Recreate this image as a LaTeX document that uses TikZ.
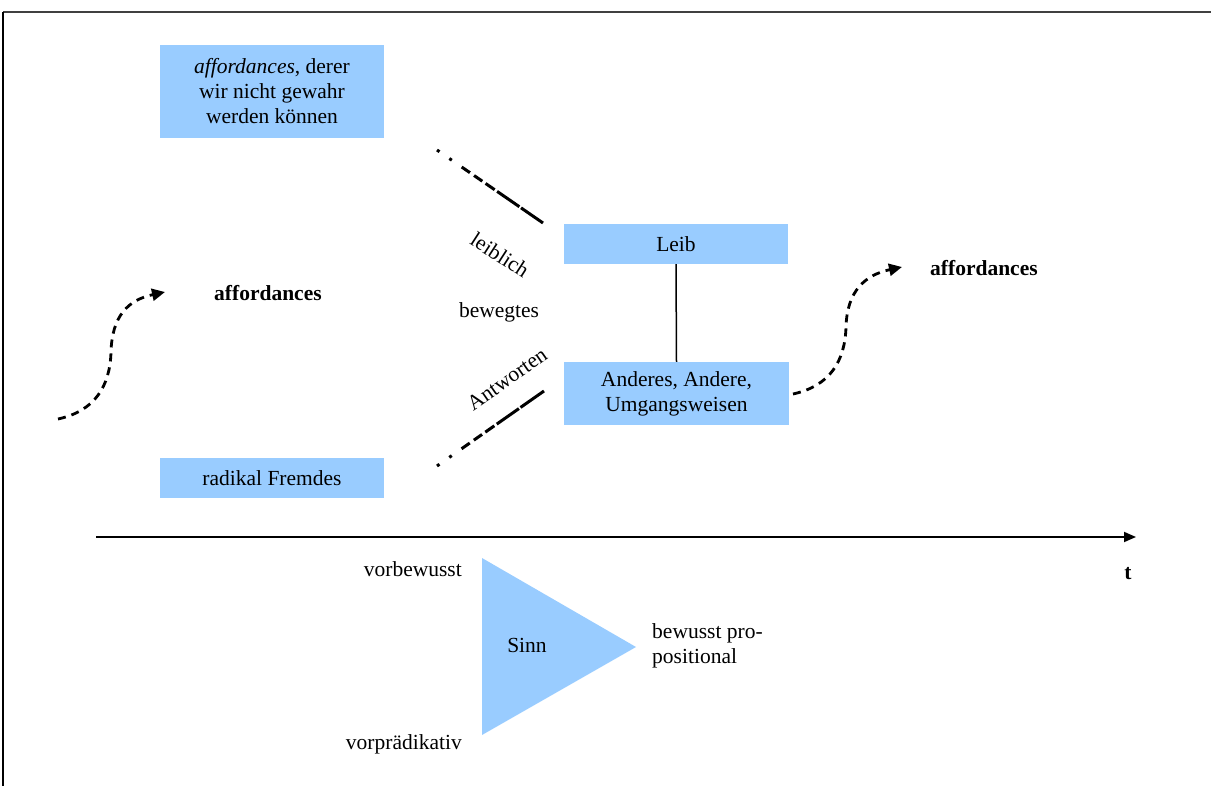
\documentclass[tikz,border=0pt]{standalone}
\usepackage{fontspec}
\setmainfont{Liberation Serif}
\usetikzlibrary{arrows.meta}
\definecolor{boxblue}{HTML}{99CCFF}
\begin{document}
\begin{tikzpicture}[x=1pt,y=-1pt,
  every node/.style={font=\fontsize{21.5}{25}\selectfont, inner sep=0pt},
  bluebox/.style={fill=boxblue, align=center, minimum width=224pt},
  plain/.style={align=center},
  fadeline/.style={line width=3pt,
    dash pattern=on 3pt off 12pt on 3pt off 12pt on 10pt off 5pt on 10pt off 4pt on 11pt off 3pt on 27pt off 2pt on 40pt},
  flowcurve/.style={line width=2.8pt, dash pattern=on 8pt off 6pt,
    -{Triangle[length=13pt,width=12pt]}},
]
\useasboundingbox (0,0) rectangle (1211,786);

% frame
\draw[line width=2.2pt, black!75] (3,12) -- (1211,12);
\draw[line width=1.2pt] (3,12) -- (3,786);

% boxes
\node[bluebox, minimum height=93pt] (unaware) at (272,91.5)
  {\textit{affordances}, derer\\wir nicht gewahr\\werden können};
\node[bluebox, minimum height=40pt] (fremd) at (272,478) {radikal Fremdes};
\node[bluebox, minimum height=40pt] (leib) at (676,244) {Leib};
\node[bluebox, minimum height=63pt, minimum width=225pt] (andere) at (676.5,393.5)
  {Anderes, Andere,\\Umgangsweisen};
\draw[line width=1.5pt] (leib.south) -- (andere.north);

% middle labels
\node[plain, rotate=-33] (leiblich) at (500,255) {leiblich};
\node[plain] (bewegtes) at (499,312) {bewegtes};
\node[plain, rotate=35] (antworten) at (507,379) {Antworten};

% fading dashed lines towards the Leib/Andere boxes
\coordinate (ua) at (437,150);
\coordinate (ub) at (543,223);
\coordinate (la) at (437,466);
\coordinate (lb) at (544,391);
\draw[fadeline] (ua) -- (ub);
\draw[fadeline] (la) -- (lb);

% affordances and curved arrows
\node[plain, font=\fontsize{21.5}{25}\selectfont\bfseries, anchor=west] (affL) at (214,293) {affordances};
\node[plain, font=\fontsize{21.5}{25}\selectfont\bfseries, anchor=west] (affR) at (930,268) {affordances};
\coordinate (cL) at (58,419);
\coordinate (tL) at (165,292);
\draw[flowcurve] (cL) .. controls (95,411) and (110,386) .. (111,352)
  .. controls (112,316) and (128,300) .. (tL);
\coordinate (cR) at (793,394);
\coordinate (tR) at (902,267);
\draw[flowcurve] (cR) .. controls (830,386) and (845,361) .. (846,327)
  .. controls (847,291) and (865,275) .. (tR);

% time axis
\coordinate (ax0) at (96,537);
\coordinate (ax1) at (1136,537);
\draw[line width=1.8pt, -{Triangle[length=12pt,width=10pt]}] (ax0) -- (ax1);
\node[plain, font=\fontsize{21.5}{25}\selectfont\bfseries] (tlabel) at (1128,574) {t};

% meaning triangle
\coordinate (tri1) at (482,558);
\coordinate (tri2) at (636,647);
\coordinate (tri3) at (482,735);
\fill[boxblue] (tri1) -- (tri2) -- (tri3) -- cycle;
\node[plain] (sinn) at (527,645) {Sinn};
\node[plain, anchor=east] (vorbewusst) at (462,569) {vorbewusst};
\node[plain, anchor=east] (vorpraed) at (462,744) {vorprädikativ};
\node[align=left, anchor=west] (bewusst) at (652,646) {bewusst pro-\\positional};
\end{tikzpicture}
\end{document}
